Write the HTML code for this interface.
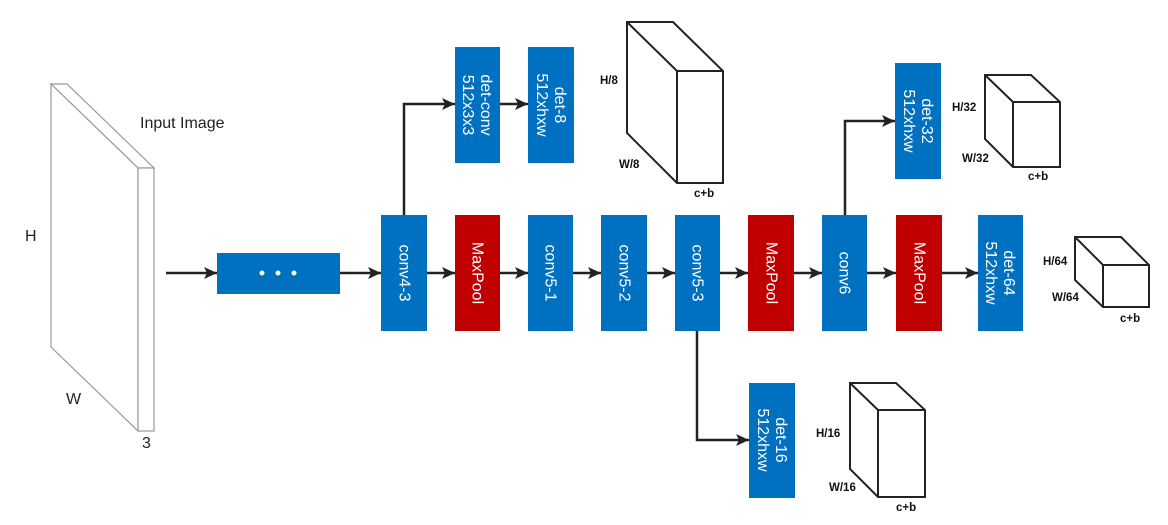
<!DOCTYPE html>
<html><head><meta charset="utf-8"><style>
html,body{margin:0;padding:0;background:#fff;}
svg{display:block;}
.l{font-family:"Liberation Sans",sans-serif;font-size:16px;fill:#fff;}
.s{font-family:"Liberation Sans",sans-serif;font-size:11.5px;font-weight:bold;fill:#111;}
.t{font-family:"Liberation Sans",sans-serif;font-size:16px;fill:#222;}
</style></head><body>
<svg width="1168" height="525" viewBox="0 0 1168 525" xmlns="http://www.w3.org/2000/svg">
<defs><marker id="a" markerWidth="14" markerHeight="12" refX="13" refY="6" orient="auto" markerUnits="userSpaceOnUse"><path d="M0,0 L13,6 L0,12 L3,6 z" fill="#222"/></marker></defs>
<g fill="#fff" stroke="#999" stroke-width="1.2">
<polygon points="51,84 67,84 154,168 138,168"/>
<polygon points="51,84 138,168 138,431 51,347"/>
<rect x="138" y="168" width="16" height="263"/>
</g>
<text class="t" x="140" y="128">Input Image</text>
<text class="t" x="25" y="241">H</text>
<text class="t" x="66" y="404">W</text>
<text class="t" x="142" y="448">3</text>
<g stroke="#222" stroke-width="2.5" fill="none" marker-end="url(#a)">
<line x1="166" y1="273" x2="217" y2="273"/>
<line x1="340" y1="273" x2="381" y2="273"/>
<line x1="427" y1="273" x2="455" y2="273"/>
<line x1="500" y1="273" x2="528" y2="273"/>
<line x1="573" y1="273" x2="601" y2="273"/>
<line x1="647" y1="273" x2="675" y2="273"/>
<line x1="720" y1="273" x2="748" y2="273"/>
<line x1="794" y1="273" x2="822" y2="273"/>
<line x1="867" y1="273" x2="896" y2="273"/>
<line x1="942" y1="273" x2="978" y2="273"/>
<line x1="500" y1="104" x2="528" y2="104"/>
<polyline points="404,216 404,104 455,104"/>
<polyline points="845,216 845,121 895,121"/>
<polyline points="697,331 697,440 749,440"/>
</g>
<rect x="217" y="253" width="123" height="41" fill="#0070c0"/>
<circle cx="262" cy="273" r="2.5" fill="#fff"/><circle cx="278" cy="273" r="2.5" fill="#fff"/><circle cx="294" cy="273" r="2.5" fill="#fff"/>
<g>
<rect x="381" y="215" width="46" height="116" fill="#0070c0"/>
<rect x="455" y="215" width="45" height="116" fill="#c00000"/>
<rect x="528" y="215" width="45" height="116" fill="#0070c0"/>
<rect x="601" y="215" width="46" height="116" fill="#0070c0"/>
<rect x="675" y="215" width="45" height="116" fill="#0070c0"/>
<rect x="748" y="215" width="46" height="116" fill="#c00000"/>
<rect x="822" y="215" width="45" height="116" fill="#0070c0"/>
<rect x="896" y="215" width="46" height="116" fill="#c00000"/>
<rect x="978" y="215" width="45" height="116" fill="#0070c0"/>
<rect x="455" y="47" width="45" height="116" fill="#0070c0"/>
<rect x="528" y="47" width="46" height="116" fill="#0070c0"/>
<rect x="895" y="63" width="46" height="116" fill="#0070c0"/>
<rect x="749" y="383" width="46" height="115" fill="#0070c0"/>
</g>
<g class="l" text-anchor="middle" dominant-baseline="central">
<text transform="translate(404,273) rotate(90)">conv4-3</text>
<text transform="translate(477,273) rotate(90)">MaxPool</text>
<text transform="translate(550,273) rotate(90)">conv5-1</text>
<text transform="translate(624,273) rotate(90)">conv5-2</text>
<text transform="translate(697,273) rotate(90)">conv5-3</text>
<text transform="translate(771,273) rotate(90)">MaxPool</text>
<text transform="translate(844,273) rotate(90)">conv6</text>
<text transform="translate(919,273) rotate(90)">MaxPool</text>
<text transform="translate(1000,273) rotate(90)"><tspan x="0" y="-9">det-64</tspan><tspan x="0" y="9">512xhxw</tspan></text>
<text transform="translate(477,105) rotate(90)"><tspan x="0" y="-9">det-conv</tspan><tspan x="0" y="9">512x3x3</tspan></text>
<text transform="translate(551,105) rotate(90)"><tspan x="0" y="-9">det-8</tspan><tspan x="0" y="9">512xhxw</tspan></text>
<text transform="translate(918,121) rotate(90)"><tspan x="0" y="-9">det-32</tspan><tspan x="0" y="9">512xhxw</tspan></text>
<text transform="translate(772,440) rotate(90)"><tspan x="0" y="-9">det-16</tspan><tspan x="0" y="9">512xhxw</tspan></text>
</g>
<g fill="#fff" stroke="#222" stroke-width="2" stroke-linejoin="miter">
<path d="M627,22 L673,22 L723,71 L723,183 L677,183 L627,133 Z M627,22 L677,71 L723,71 M677,71 L677,183"/>
<path d="M985,75 L1031,75 L1060,102 L1060,167 L1013,167 L985,139 Z M985,75 L1013,102 L1060,102 M1013,102 L1013,167"/>
<path d="M1075,237 L1121,237 L1149,265 L1149,307 L1103,307 L1075,280 Z M1075,237 L1103,265 L1149,265 M1103,265 L1103,307"/>
<path d="M850,383 L896,383 L925,410 L925,497 L878,497 L850,469 Z M850,383 L878,410 L925,410 M878,410 L878,497"/>
</g>
<g class="s">
<text x="600" y="84">H/8</text><text x="619" y="168">W/8</text><text x="694" y="197">c+b</text>
<text x="952" y="111">H/32</text><text x="962" y="162">W/32</text><text x="1028" y="180">c+b</text>
<text x="1043" y="265">H/64</text><text x="1052" y="301">W/64</text><text x="1120" y="322">c+b</text>
<text x="816" y="437">H/16</text><text x="829" y="491">W/16</text><text x="896" y="511">c+b</text>
</g>
</svg>
</body></html>
